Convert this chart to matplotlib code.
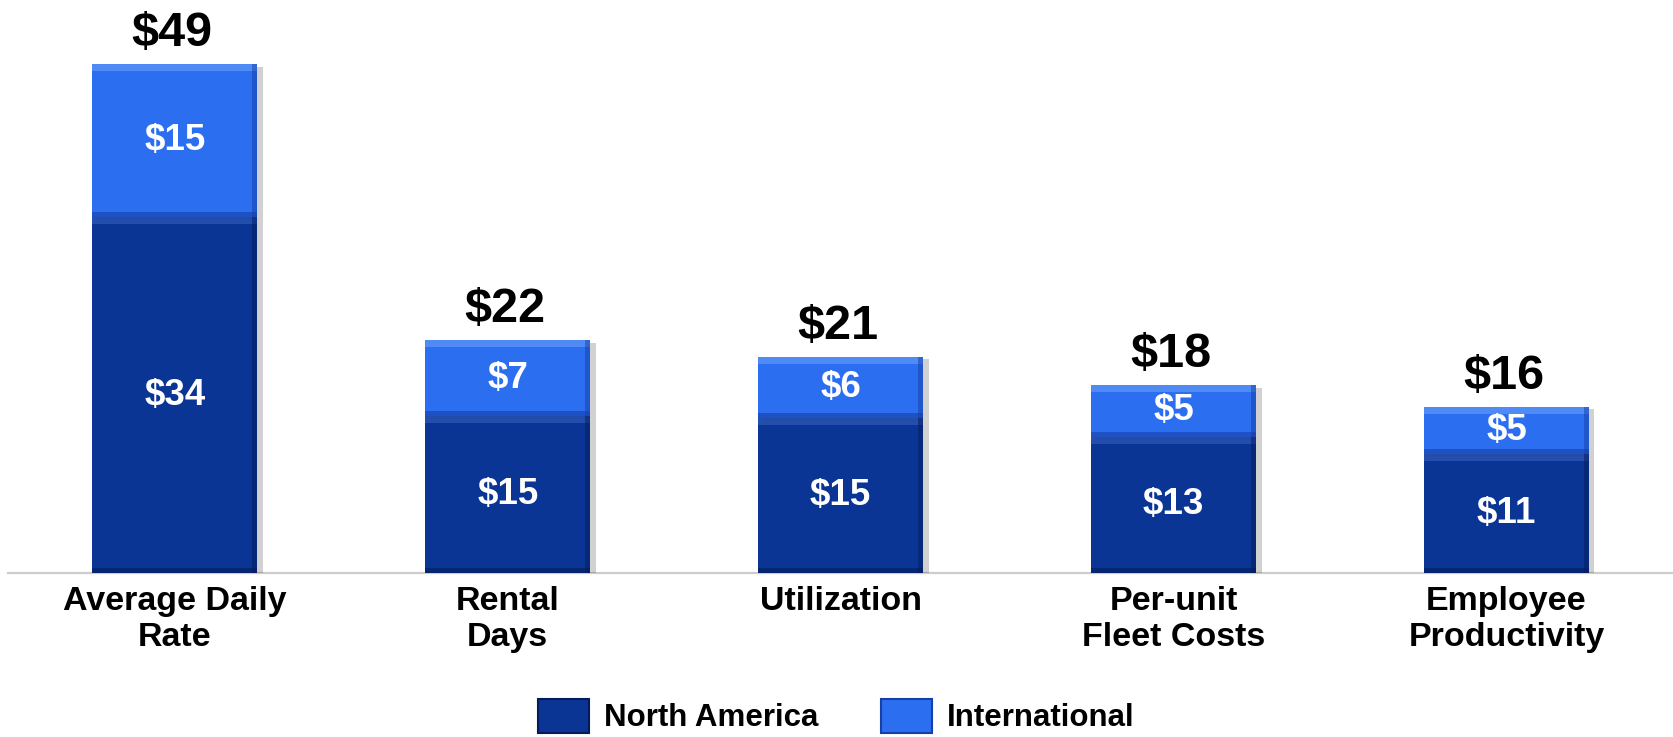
import matplotlib
matplotlib.use("Agg")
import matplotlib.pyplot as plt
from matplotlib.patches import Rectangle
import matplotlib.patheffects as pe

categories = ["Average Daily\nRate", "Rental\nDays", "Utilization",
              "Per-unit\nFleet Costs", "Employee\nProductivity"]
north_america = [34.2, 15.1, 14.9, 13.1, 11.4]
international = [14.7, 7.3, 5.9, 5.0, 4.6]
series_names = ["North America", "International"]

NA_COLOR = "#0a3595"
INTL_COLOR = "#2c6ef0"
FONT = "Liberation Sans"

plt.rcParams['font.family'] = [FONT, 'DejaVu Sans']

W, H = 1673, 737
fig = plt.figure(figsize=(W / 100, H / 100), dpi=100)
ax = fig.add_axes([0.005, 0.2225, 0.995, 0.762])

x = list(range(len(categories)))
totals = [a + b for a, b in zip(north_america, international)]

shadow = [pe.withSimplePatchShadow(offset=(4, -2), shadow_rgbFace="#000000", alpha=0.18)]
b1 = ax.bar(x, north_america, width=0.495, color=NA_COLOR, zorder=3, path_effects=shadow)
b2 = ax.bar(x, international, width=0.495, bottom=north_america, color=INTL_COLOR,
            zorder=3, path_effects=shadow)

ax.set_xlim(-0.5, 4.5)
ax.set_ylim(0, 54)

# pixel-to-data helpers for bevel effect
fig.canvas.draw()
px_per_unit_y = (ax.transData.transform((0, 1))[1] - ax.transData.transform((0, 0))[1])
px_per_unit_x = (ax.transData.transform((1, 0))[0] - ax.transData.transform((0, 0))[0])
dy = 1.0 / px_per_unit_y
dx = 1.0 / px_per_unit_x

def bevel(rect, light, dark):
    bx, by = rect.get_x(), rect.get_y()
    bw, bh = rect.get_width(), rect.get_height()
    ax.add_patch(Rectangle((bx, by + bh - 7 * dy), bw, 7 * dy, facecolor=light,
                           edgecolor="none", zorder=4, alpha=0.8))
    ax.add_patch(Rectangle((bx, by), bw, 5 * dy, facecolor=dark,
                           edgecolor="none", zorder=4, alpha=0.6))
    ax.add_patch(Rectangle((bx + bw - 5 * dx, by), 5 * dx, bh, facecolor=dark,
                           edgecolor="none", zorder=4, alpha=0.5))

for r in b1:
    bevel(r, "#2a55b5", "#041c5c")
for r in b2:
    bevel(r, "#5a93f7", "#1540a8")

# segment labels
for xi, a, b in zip(x, north_america, international):
    ax.text(xi, a / 2, f"${round(a)}", ha="center", va="center", color="white",
            fontsize=26.5, fontweight="bold", zorder=6)
    ax.text(xi, a + b / 2, f"${round(b)}", ha="center", va="center", color="white",
            fontsize=26.5, fontweight="bold", zorder=6)

# total labels
for xi, t in zip(x, totals):
    ax.annotate(f"${round(t)}", (xi, t), xytext=(-2, 13), textcoords="offset points",
                ha="center", va="baseline", fontsize=35, fontweight="bold", color="black")

ax.set_xticks(x)
ax.set_xticklabels(categories, fontsize=24.5, fontweight="bold", linespacing=1.22)
ax.tick_params(axis="x", length=0, pad=9)
ax.set_yticks([])
for s in ["top", "right", "left"]:
    ax.spines[s].set_visible(False)
ax.spines["bottom"].set_color("#cccccc")
ax.spines["bottom"].set_linewidth(1.6)
ax.spines["bottom"].set_zorder(2)

handles = [Rectangle((0, 0), 1, 1, facecolor=NA_COLOR, edgecolor="#041c5c", linewidth=1.5),
           Rectangle((0, 0), 1, 1, facecolor=INTL_COLOR, edgecolor="#1540a8", linewidth=1.5)]
leg = fig.legend(handles, series_names, loc="center", bbox_to_anchor=(0.5, 0.0285),
                 ncol=2, frameon=False, prop={"family": FONT, "weight": "bold", "size": 22.5},
                 handlelength=1.63, handleheight=1.34, handletextpad=0.48, columnspacing=2.0,
                 borderpad=0.1)

fig.savefig("out.png", dpi=100, facecolor="white")
